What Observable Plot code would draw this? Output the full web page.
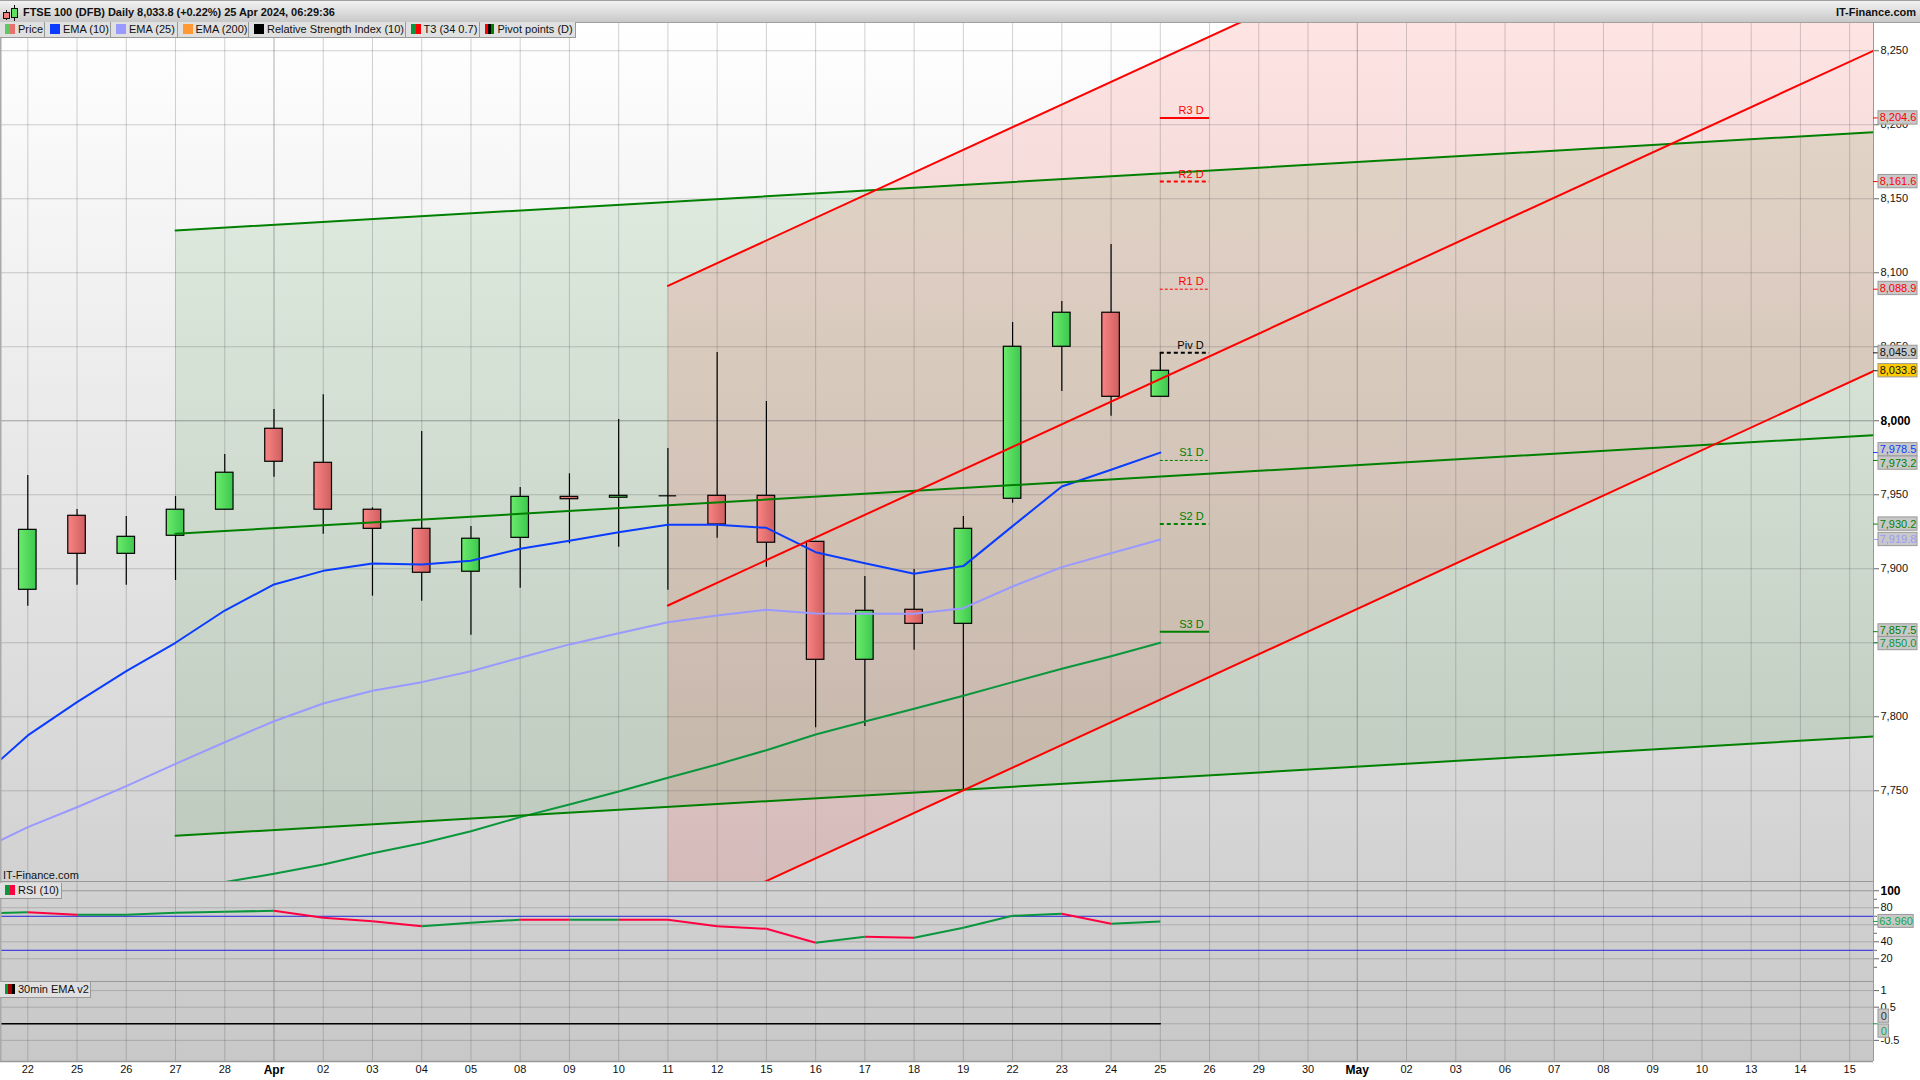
<!DOCTYPE html>
<html>
<head>
<meta charset="utf-8">
<script src="https://cdn.jsdelivr.net/npm/d3@7"></script>
<script src="https://cdn.jsdelivr.net/npm/@observablehq/plot@0.6"></script>
<style>
html,body{margin:0;padding:0;background:#fff;width:1920px;height:1080px;overflow:hidden;font-family:"Liberation Sans",Arial,sans-serif;}
#root{position:absolute;left:0;top:0;width:1920px;height:1080px;overflow:hidden;}
#bg{position:absolute;left:0;top:22px;width:1873px;height:1039px;background:linear-gradient(#ffffff,#c8c8c8);}
#head{position:absolute;left:0;top:0;width:1920px;height:21px;box-sizing:content-box;border-top:1px solid #a0a0a0;border-bottom:1px solid #a0a0a0;margin-top:0;background:linear-gradient(#f2f2f2,#c8c8c8);}
#title{position:absolute;left:23px;top:5px;font-size:11px;font-weight:bold;color:#111;white-space:nowrap;line-height:13px;letter-spacing:-0.04px;}
#brand{position:absolute;right:4px;top:5px;font-size:11px;font-weight:bold;color:#111;white-space:nowrap;line-height:13px;}
.chart{position:absolute;left:0;display:block;}
.chip{position:absolute;height:15px;background:#e0e0e0;border-right:1px solid #999;border-bottom:1px solid #999;font-size:11px;line-height:15px;color:#111;white-space:nowrap;box-sizing:content-box;}
.chip span.t{position:absolute;left:18px;top:0;}
.sw{position:absolute;left:5px;top:2px;width:10px;height:10px;display:flex;}
.sw i{display:block;flex:1;height:100%;}
.wm{position:absolute;left:3px;top:869px;font-size:11px;line-height:13px;color:#111;}
.ic{position:absolute;box-sizing:border-box;border:1px solid #111;}
.iw{position:absolute;width:1px;background:#111;}
</style>
</head>
<body>
<div id="root">
  <div id="bg"></div>
  <div id="plots"></div>
  <div id="head">
    <div class="iw" style="left:6px;top:9px;height:10px"></div>
    <div class="ic" style="left:3px;top:11px;width:7px;height:7px;background:#f08080"></div>
    <div class="iw" style="left:14px;top:4px;height:16px"></div>
    <div class="ic" style="left:11px;top:7px;width:7px;height:10px;background:#60e060"></div>
    <div id="title">FTSE 100 (DFB) Daily 8,033.8 (+0.22%) 25 Apr 2024, 06:29:36</div>
    <div id="brand">IT-Finance.com</div>
  </div>
  <div id="chips"></div>
  <div class="wm">IT-Finance.com</div>
</div>
<script>
// ---- session labels
const xLabels = ["22","25","26","27","28","Apr","02","03","04","05","08","09","10","11","12","15","16","17","18","19","22","23","24","25","26","29","30","May","02","03","06","07","08","09","10","13","14","15"];
const boldLabels = ["Apr","May"];

// ---- candles (22 Mar .. 25 Apr 2024)
const opens  = [7885.8,7935.8,7910.1,7922.3,7939.9,7994.6,7971.6,7939.9,7927.0,7898.0,7920.9,7948.6,7948.0,7949.3,7949.3,7949.3,7918.2,7838.5,7872.3,7862.8,7947.3,8050.0,8073.0,8016.2];
const closes = [7926.3,7910.1,7921.6,7939.9,7964.9,7972.3,7939.9,7927.0,7897.3,7920.3,7948.6,7947.0,7949.3,7949.3,7929.9,7917.6,7838.5,7871.6,7862.8,7927.0,8050.0,8073.0,8016.2,8033.8];
const highs  = [7963.0,7940.1,7935.3,7948.9,7977.2,8007.6,8017.6,7941.2,7992.8,7928.6,7954.9,7964.2,8000.9,7981.3,8046.1,8013.0,7918.2,7894.8,7899.5,7935.3,8066.4,8080.6,8119.1,8045.9];
const lows   = [7874.7,7888.9,7888.9,7892.1,7939.9,7961.9,7923.4,7881.5,7878.1,7855.1,7886.9,7916.9,7914.6,7885.5,7920.7,7901.1,7792.6,7793.4,7845.0,7750.3,7944.3,8019.8,8003.1,8016.2];

// ---- moving averages (first entry is the session before the left edge)
const ema10 = [7757.7,7787.4,7809.9,7830.8,7850.0,7871.8,7889.4,7898.6,7903.6,7902.9,7905.4,7913.5,7918.9,7924.7,7929.7,7929.7,7927.7,7911.2,7903.8,7896.6,7901.8,7928.8,7955.6,7966.9,7978.5];
const ema25 = [7709.2,7725.4,7738.9,7753.1,7768.2,7782.8,7797.0,7809.0,7817.6,7823.4,7830.8,7839.9,7848.9,7856.5,7863.9,7868.4,7872.3,7869.8,7869.6,7869.6,7873.4,7888.0,7901.1,7910.5,7919.8];
const t3Idx = [3,4,5,6,7,8,9,10,11,12,13,14,15,16,17,18,19,20,21,22,23];
const t3    = [7682.6,7688.3,7693.9,7700.2,7707.8,7714.6,7722.7,7732.2,7740.7,7749.5,7758.8,7767.8,7777.4,7788.0,7796.8,7805.4,7814.2,7823.4,7832.4,7840.9,7850.0];

// ---- trend channels
const greenX = [3,37.484];
const greenUpper = [8128.6,8195.0];
const greenMid   = [7923.6,7990.3];
const greenLower = [7719.6,7786.7];
const redX = [13,37.484];
const redUpper = [8091.2,8466.0];
const redMid   = [7875.2,8250.0];
const redLower = [7658.4,8033.5];

// ---- pivot points
const pivNames  = ["R3 D","R2 D","R1 D","Piv D","S1 D","S2 D","S3 D"];
const pivValues = [8204.6,8161.6,8088.9,8045.9,7973.2,7930.2,7857.5];
const pivColors = ["#ff0000","#ff0000","#ff0000","#000000","#008000","#008000","#008000"];
const pivWidths = [2,2,1,2,1,2,2];
const pivDashes = ["none","4,3","3,2","4,3","3,2","4,3","none"];

// ---- price tags on the right
const tagValues = [8204.6,8161.6,8088.9,8045.9,8033.8,7978.5,7973.2,7930.2,7919.8,7857.5,7850.0];
const tagAt     = [8204.6,8161.6,8089.4,8046.2,8033.8,7980.4,7971.4,7930.2,7919.8,7858.0,7849.5];
const tagColors = ["#ff0000","#ff0000","#ff0000","#111111","#111111","#0a3cff","#008000","#008000","#9999ff","#008000","#0a963c"];
const tagFills  = ["#c8c8c8","#c8c8c8","#c8c8c8","#c8c8c8","#ffcc00","#c8c8c8","#c8c8c8","#c8c8c8","#c8c8c8","#c8c8c8","#c8c8c8"];

// ---- price axis
const priceTicks = [7750,7800,7850,7900,7950,8050,8100,8150,8200,8250];
const priceMajor = [8000];

// ---- RSI
const rsiIdx = [-1,0,1,2,3,4,5,6,7,8,9,10,11,12,13,14,15,16,17,18,19,20,21,22,23];
const rsi    = [72.9,74.8,71.8,71.9,74.1,75.3,76.5,68.2,64.2,58.4,62.4,66.0,65.8,65.9,65.8,58.4,55.3,38.8,45.9,44.7,56.5,70.6,72.9,61.2,63.96];
const rsiBands = [70,30];
const rsiTicks = [80,60,40,20];
const rsiMajor = [100];
const rsiMinor = [90,70,50,30,10];

// ---- 30min EMA
const emaLineX = [-0.5544,23];
const emaLineY = [0,0];
const emaTicks = [1,0.5,-0.5];
const emaGrid = [1,0.5,0,-0.5];

// ---- legend chips
const chipNames  = ["Price","EMA (10)","EMA (25)","EMA (200)","Relative Strength Index (10)","T3 (34 0.7)","Pivot points (D)"];
const chipLefts  = [0,45,111,177.5,249,405.5,479.5];
const chipRights = [45,111,177.5,249,405.5,479.5,575.5];
const chipSwatch = [["#60c860","#e87070"],["#0a3cff"],["#9999ff"],["#ff9933"],["#000000"],["#0a963c","#ff0000"],["#ff0000","#000000","#008000"]];

// ---- shared geometry of the x scale
const xMin = -0.5544, xMax = 37.484;
const W = 1920, MR = 47;
const FONT = '"Liberation Sans", Arial, sans-serif';
const baseStyle = {fontFamily: FONT, fontSize: "11px", background: "transparent", overflow: "visible", color: "#111"};
const idx = xLabels.map((_, i) => i);
const gridIdx = idx.filter(i => !boldLabels.includes(xLabels[i]));
const boldIdx = idx.filter(i => boldLabels.includes(xLabels[i]));
const GRID = "#555";
const BORDER = "#999";

function defs() {
  const d = d3.create("svg:defs");
  const mk = (id, a, b) => {
    const g = d.append("linearGradient").attr("id", id).attr("x1", 0).attr("x2", 1).attr("y1", 0).attr("y2", 0);
    g.append("stop").attr("offset", "0%").attr("stop-color", a);
    g.append("stop").attr("offset", "100%").attr("stop-color", b);
  };
  mk("gUp", "#6ceb6c", "#3cc84e");
  mk("gDn", "#fa8484", "#cf5f5f");
  return d.node();
}
const pts = (xs, ys) => xs.map((x, i) => ({x, y: ys[i]}));
const vGrid = () => [
  Plot.ruleX(gridIdx, {stroke: GRID, strokeOpacity: 0.27, strokeWidth: 1}),
  Plot.ruleX(boldIdx, {stroke: GRID, strokeOpacity: 0.45, strokeWidth: 1})
];
const edges = () => [
  Plot.ruleX([xMax], {stroke: BORDER, strokeWidth: 1}),
  Plot.ruleX([xMin], {stroke: "#aaa", strokeWidth: 2})
];

// ---- candles table
const candles = opens.map((o, i) => ({i, o, c: closes[i], h: highs[i], l: lows[i]}));
const hw = 0.178;

// ---- channel tables
const gBand = greenX.map((x, i) => ({x, lo: greenLower[i], hi: greenUpper[i]}));
const rBand = redX.map((x, i) => ({x, lo: redLower[i], hi: redUpper[i]}));
const pivots = pivNames.map((n, i) => ({n, v: pivValues[i], color: pivColors[i], w: pivWidths[i], dash: pivDashes[i]}));
const tags = tagValues.map((v, i) => ({v, at: tagAt[i], color: tagColors[i], fill: tagFills[i]}));
const tagX1 = 37.585, tagX2 = 38.378, tagH = 4.5;

const main = Plot.plot({
  width: W, height: 859, marginLeft: 0, marginRight: MR, marginTop: 0, marginBottom: 0,
  style: baseStyle,
  x: {type: "linear", domain: [xMin, xMax], axis: null},
  y: {type: "linear", domain: [7688.7, 8269.1], axis: null},
  marks: [
    defs,
    Plot.areaY(gBand, {x: "x", y1: "lo", y2: "hi", fill: "#008000", fillOpacity: 0.1, clip: true}),
    Plot.areaY(rBand, {x: "x", y1: "lo", y2: "hi", fill: "#ff0000", fillOpacity: 0.105, clip: true}),
    ...vGrid(),
    Plot.ruleY(priceTicks, {stroke: GRID, strokeOpacity: 0.27, strokeWidth: 1}),
    Plot.ruleY(priceMajor, {stroke: GRID, strokeOpacity: 0.5, strokeWidth: 1}),
    Plot.ruleX(candles, {x: "i", y1: "l", y2: "h", stroke: "#000", strokeWidth: 1.2}),
    Plot.rect(candles.filter(d => d.c > d.o), {x1: d => d.i - hw, x2: d => d.i + hw, y1: "o", y2: "c", fill: "url(#gUp)", stroke: "#000", strokeWidth: 1.2}),
    Plot.rect(candles.filter(d => d.c < d.o), {x1: d => d.i - hw, x2: d => d.i + hw, y1: "o", y2: "c", fill: "url(#gDn)", stroke: "#000", strokeWidth: 1.2}),
    Plot.ruleY(candles.filter(d => d.c === d.o), {y: "o", x1: d => d.i - hw, x2: d => d.i + hw, stroke: "#000", strokeWidth: 1.2}),
    Plot.lineY(pts(t3Idx, t3), {x: "x", y: "y", stroke: "#0a963c", strokeWidth: 2, clip: true}),
    Plot.lineY(pts(d3.range(-1, 24), ema25), {x: "x", y: "y", stroke: "#9999ff", strokeWidth: 2, clip: true}),
    Plot.lineY(pts(d3.range(-1, 24), ema10), {x: "x", y: "y", stroke: "#0a3cff", strokeWidth: 2, clip: true}),
    Plot.lineY(pts(greenX, greenUpper), {x: "x", y: "y", stroke: "#008000", strokeWidth: 2, clip: true}),
    Plot.lineY(pts(greenX, greenMid), {x: "x", y: "y", stroke: "#008000", strokeWidth: 2, clip: true}),
    Plot.lineY(pts(greenX, greenLower), {x: "x", y: "y", stroke: "#008000", strokeWidth: 2, clip: true}),
    Plot.lineY(pts(redX, redUpper), {x: "x", y: "y", stroke: "#ff0000", strokeWidth: 2, clip: true}),
    Plot.lineY(pts(redX, redMid), {x: "x", y: "y", stroke: "#ff0000", strokeWidth: 2, clip: true}),
    Plot.lineY(pts(redX, redLower), {x: "x", y: "y", stroke: "#ff0000", strokeWidth: 2, clip: true}),
    ...pivots.map(p => Plot.ruleY([p.v], {x1: 23, x2: 24, stroke: p.color, strokeWidth: p.w, strokeDasharray: p.dash})),
    Plot.text(pivots, {x: 23.88, y: "v", text: "n", fill: "color", textAnchor: "end", lineAnchor: "bottom", dy: -4, fontSize: 11}),
    ...edges(),
    Plot.axisY(priceTicks, {anchor: "right", tickSize: 5, tickPadding: 2, tickFormat: d3.format(","), label: null, stroke: "#666", fill: "#111", fontSize: 11}),
    Plot.axisY(priceMajor, {anchor: "right", tickSize: 5, tickPadding: 2, tickFormat: d3.format(","), label: null, stroke: "#666", fill: "#000", fontSize: 12, fontWeight: "bold"}),
    Plot.ruleY(tags, {y: "v", x1: xMax, x2: tagX1, stroke: "color", strokeWidth: 1}),
    Plot.rect(tags, {x1: tagX1, x2: tagX2, y1: d => d.at - tagH, y2: d => d.at + tagH, fill: "fill", stroke: "#999", strokeWidth: 1}),
    Plot.text(tags, {x: (tagX1 + tagX2) / 2, y: "at", text: d => d3.format(",.1f")(d.v), fill: "color", fontSize: 11})
  ]
});

const rsiSeg = rsi.slice(1).map((v, i) => ({x1: rsiIdx[i], x2: rsiIdx[i + 1], y1: rsi[i], y2: v}));
const rsiTagX2 = 38.3;
const rsiPanel = Plot.plot({
  width: W, height: 100, marginLeft: 0, marginRight: MR, marginTop: 0, marginBottom: 0,
  style: baseStyle,
  x: {type: "linear", domain: [xMin, xMax], axis: null},
  y: {type: "linear", domain: [-6.7, 110.9], axis: null},
  marks: [
    ...vGrid(),
    Plot.ruleY(rsiTicks, {stroke: GRID, strokeOpacity: 0.27}),
    Plot.ruleY(rsiMajor, {stroke: GRID, strokeOpacity: 0.45}),
    Plot.ruleY(rsiBands, {stroke: "#2222dd", strokeWidth: 1}),
    Plot.link(rsiSeg, {x1: "x1", x2: "x2", y1: "y1", y2: "y2", stroke: d => d.y2 >= d.y1 ? "#0a963c" : "#ff0040", strokeWidth: 2, clip: true}),
    Plot.ruleY([110.9], {stroke: BORDER, strokeWidth: 1}),
    ...edges(),
    Plot.axisY(rsiTicks, {anchor: "right", tickSize: 5, tickPadding: 2, label: null, stroke: "#666", fill: "#111", fontSize: 11}),
    Plot.axisY(rsiMajor, {anchor: "right", tickSize: 5, tickPadding: 2, label: null, stroke: "#666", fill: "#000", fontSize: 12, fontWeight: "bold"}),
    Plot.axisY(rsiMinor, {anchor: "right", tickSize: 3, tickFormat: () => "", label: null, stroke: "#666"}),
    Plot.ruleY([63.96], {x1: xMax, x2: tagX1, stroke: "#0a963c"}),
    Plot.rect([63.96], {x1: tagX1, x2: rsiTagX2, y1: d => d - 7.6, y2: d => d + 7.6, fill: "#c8c8c8", stroke: "#999"}),
    Plot.text([63.96], {x: (tagX1 + rsiTagX2) / 2, y: d => d, text: d => d.toFixed(3), fill: "#12a84a", fontSize: 11})
  ]
});

const emaTagX2 = 37.8;
const emaTags = [{at: 0.23, t: "0", c: "#333"}, {at: -0.22, t: "0", c: "#12a84a"}];
const emaPanel = Plot.plot({
  width: W, height: 98, marginLeft: 0, marginRight: MR, marginTop: 0, marginBottom: 18,
  style: baseStyle,
  x: {type: "linear", domain: [xMin, xMax], axis: null},
  y: {type: "linear", domain: [-1.136, 1.274], axis: null},
  marks: [
    ...vGrid(),
    Plot.ruleY(emaGrid, {stroke: GRID, strokeOpacity: 0.27}),
    Plot.lineY(pts(emaLineX, emaLineY), {x: "x", y: "y", stroke: "#000", strokeWidth: 1.5}),
    Plot.ruleY([1.274], {stroke: BORDER, strokeWidth: 1}),
    Plot.ruleY([-1.136], {stroke: BORDER, strokeWidth: 1.5}),
    ...edges(),
    Plot.axisY(emaTicks, {anchor: "right", tickSize: 5, tickPadding: 2, tickFormat: d => String(d), label: null, stroke: "#666", fill: "#111", fontSize: 11}),
    Plot.ruleY([0], {x1: xMax, x2: tagX1, stroke: "#0a963c"}),
    Plot.rect(emaTags, {x1: tagX1, x2: emaTagX2, y1: d => d.at - 0.2, y2: d => d.at + 0.2, fill: "#c8c8c8", stroke: "#999"}),
    Plot.text(emaTags, {x: (tagX1 + emaTagX2) / 2, y: "at", text: "t", fill: "c", fontSize: 11}),
    Plot.axisX(gridIdx, {anchor: "bottom", tickSize: 0, tickPadding: 4, tickFormat: i => xLabels[i], label: null, fill: "#111", fontSize: 11}),
    Plot.axisX(boldIdx, {anchor: "bottom", tickSize: 0, tickPadding: 4, tickFormat: i => xLabels[i], label: null, fill: "#000", fontSize: 12, fontWeight: "bold"})
  ]
});

const host = document.getElementById("plots");
[[main, 22], [rsiPanel, 881], [emaPanel, 981]].forEach(([el, top]) => {
  el.classList.add("chart");
  el.style.top = top + "px";
  host.appendChild(el);
});

// ---- legend row and panel chips
const chips = document.getElementById("chips");
function addChip(name, left, right, top, swatch) {
  const c = document.createElement("div");
  c.className = "chip";
  c.style.left = left + "px";
  c.style.top = top + "px";
  c.style.width = (right - left - 1) + "px";
  const s = document.createElement("div");
  s.className = "sw";
  swatch.forEach(col => { const i = document.createElement("i"); i.style.background = col; s.appendChild(i); });
  c.appendChild(s);
  const t = document.createElement("span");
  t.className = "t";
  t.textContent = name;
  c.appendChild(t);
  chips.appendChild(c);
}
chipNames.forEach((n, i) => addChip(n, chipLefts[i], chipRights[i], 22, chipSwatch[i]));
addChip("RSI (10)", 0, 62, 883, ["#0a963c", "#ff0040"]);
addChip("30min EMA v2", 0, 91, 982, ["#0a963c", "#a00000", "#000000"]);
</script>
</body>
</html>
